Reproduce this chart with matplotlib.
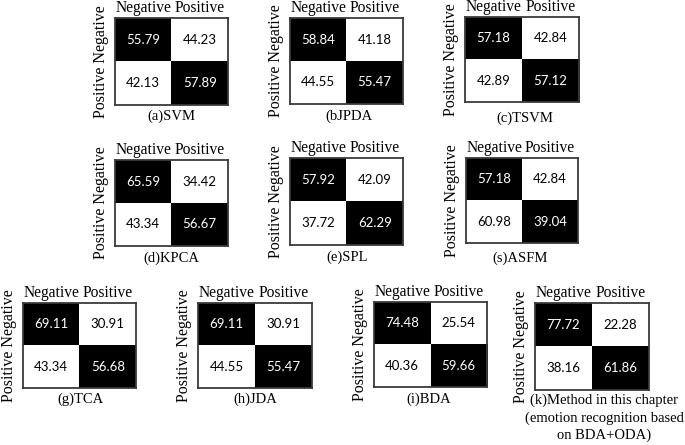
import numpy as np
import matplotlib
matplotlib.use("Agg")
import matplotlib.pyplot as plt
from matplotlib.transforms import offset_copy

# ---- data ----
captions = ["(a)SVM", "(bJPDA", "(c)TSVM", "(d)KPCA", "(e)SPL", "(s)ASFM",
            "(g)TCA", "(h)JDA", "(i)BDA",
            "(k)Method in this chapter\n(emotion recognition based\non BDA+ODA)"]
svm = [[55.79, 44.23], [42.13, 57.89]]
jpda = [[58.84, 41.18], [44.55, 55.47]]
tsvm = [[57.18, 42.84], [42.89, 57.12]]
kpca = [[65.59, 34.42], [43.34, 56.67]]
spl = [[57.92, 42.09], [37.72, 62.29]]
asfm = [[57.18, 42.84], [60.98, 39.04]]
tca = [[69.11, 30.91], [43.34, 56.68]]
jda = [[69.11, 30.91], [44.55, 55.47]]
bda = [[74.48, 25.54], [40.36, 59.66]]
ours = [[77.72, 22.28], [38.16, 61.86]]
matrices = [svm, jpda, tsvm, kpca, spl, asfm, tca, jda, bda, ours]
col_labels = ["Negative", "Positive"]
row_labels = ["Negative", "Positive"]

# ---- layout (pixels: left, top, right, bottom) ----
W, H = 685, 445
boxes = [(115, 18, 228, 105), (290, 18, 403, 104), (465, 17, 579, 102),
         (115, 160, 228, 246), (290, 158, 403, 245), (466, 158, 578, 243),
         (23, 303, 136, 388), (198, 303, 312, 388), (374, 302, 487, 387),
         (535, 303, 649, 390)]
cap_pos = [(171, 116), (349, 116), (525, 118),
           (171, 258), (347, 257), (520, 258),
           (80, 399), (255, 399), (429, 399), (604, 418)]

serif = ["Liberation Serif", "DejaVu Serif"]
sans = ["Lato", "DejaVu Sans"]

fig = plt.figure(figsize=(W / 100, H / 100), dpi=100)
fig.patch.set_facecolor("white")

for mat, (l, t, r, b), cap, (cx, cy) in zip(matrices, boxes, captions, cap_pos):
    ax = fig.add_axes([l / W, 1 - b / H, (r - l) / W, (b - t) / H])
    vals = np.array(mat)
    shade = np.eye(2)  # diagonal cells are black
    ax.imshow(shade, cmap="gray_r", vmin=0, vmax=1, aspect="auto",
              extent=(-0.5, 1.5, 1.5, -0.5), interpolation="nearest")
    for i in range(2):
        for j in range(2):
            ax.text(j, i, f"{vals[i, j]:.2f}", ha="center", va="center",
                    color="white" if shade[i, j] else "black",
                    family=sans, fontsize=9.5)
    ax.set_xticks([0, 1])
    ax.set_xticklabels(col_labels, family=serif, fontsize=11.2)
    ax.xaxis.tick_top()
    ax.tick_params(length=0, pad=1.5)
    ax.set_yticks([])
    # row label as one continuous rotated string (bottom-to-top)
    ytr = offset_copy(ax.transAxes, fig=fig, x=-4.5, y=0, units="points")
    ax.text(0, 0.5, " ".join(row_labels[::-1]), rotation=90,
            ha="right", va="center", family=serif, fontsize=11.5,
            transform=ytr)
    for sp in ax.spines.values():
        sp.set_color("#3a3a3a")
        sp.set_linewidth(1.3)
    ax.set_xlim(-0.5, 1.5)
    ax.set_ylim(1.5, -0.5)
    fig.text(cx / W, 1 - cy / H, cap, ha="center", va="center",
             family=serif, fontsize=10.5, linespacing=1.4)

fig.savefig("out.png", dpi=100)
